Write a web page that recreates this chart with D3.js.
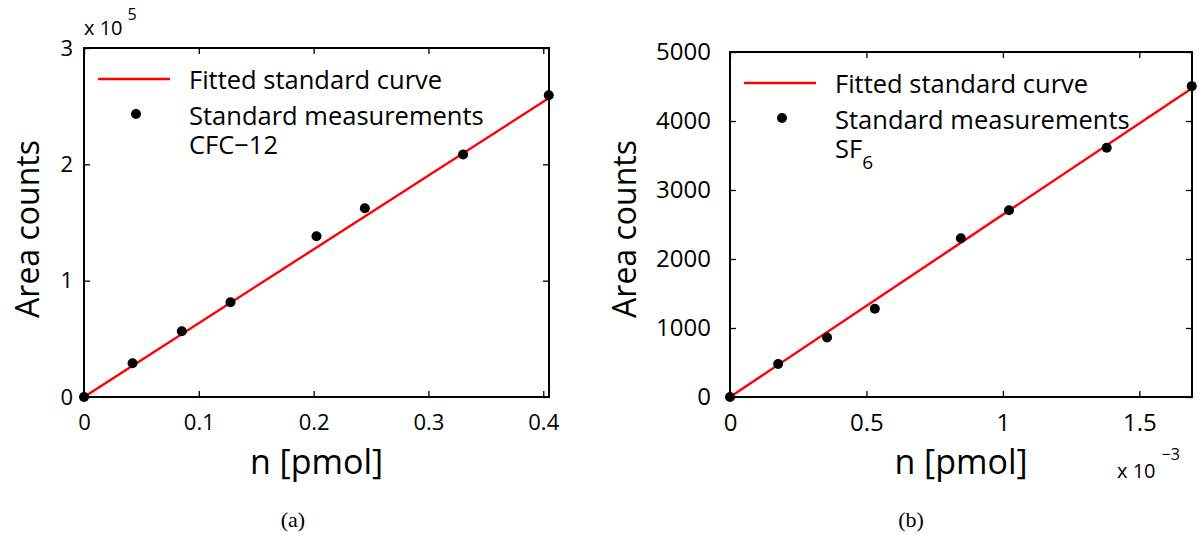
<!DOCTYPE html>
<html>
<head>
<meta charset="utf-8">
<script src="https://cdn.jsdelivr.net/npm/d3@7"></script>
<style>
  body { margin: 0; background: #fff; }
  text { font-family: "Open Sans", sans-serif; fill: #000; }
  .caption { font-family: "Liberation Serif", serif; }
</style>
</head>
<body>
<script>
// Panel (a): CFC-12
const cfcN = [0, 0.0423, 0.0852, 0.1276, 0.2025, 0.2446, 0.3302, 0.4048];
const cfcArea = [0, 29000, 56500, 81400, 138200, 162200, 208400, 259400];
const cfcFitN = [0, 0.405];
const cfcFitArea = [0, 257000];
const cfcXTicks = [0, 0.1, 0.2, 0.3, 0.4];
const cfcXLabels = ["0", "0.1", "0.2", "0.3", "0.4"];
const cfcYTicks = [0, 100000, 200000, 300000];
const cfcYLabels = ["0", "1", "2", "3"];

// Panel (b): SF6
const sfN = [0, 0.0001764, 0.0003557, 0.0005307, 0.000846, 0.0010225, 0.0013805, 0.001692];
const sfArea = [0, 478, 862, 1278, 2301, 2706, 3612, 4505];
const sfFitN = [0, 0.001693];
const sfFitArea = [0, 4474];
const sfXTicks = [0, 0.0005, 0.001, 0.0015];
const sfXLabels = ["0", "0.5", "1", "1.5"];
const sfYTicks = [0, 1000, 2000, 3000, 4000, 5000];
const sfYLabels = ["0", "1000", "2000", "3000", "4000", "5000"];

const width = 1199,
  height = 535,
  tickLen = 6;

const svg = d3
  .select("body")
  .append("svg")
  .attr("width", width)
  .attr("height", height);

const panels = [
  {
    n: cfcN, area: cfcArea, fitN: cfcFitN, fitArea: cfcFitArea,
    xTicks: cfcXTicks, xLabels: cfcXLabels, yTicks: cfcYTicks, yLabels: cfcYLabels,
    xMax: 0.405, yMax: 300000,
    left: 84, right: 549, top: 48, bottom: 397,
    tickFont: 22, yPad: 11,
    yLabelX: 39, species: "CFC\u221212", caption: "(a)", captionX: 293,
  },
  {
    n: sfN, area: sfArea, fitN: sfFitN, fitArea: sfFitArea,
    xTicks: sfXTicks, xLabels: sfXLabels, yTicks: sfYTicks, yLabels: sfYLabels,
    xMax: 0.001693, yMax: 5000,
    left: 730, right: 1192, top: 52, bottom: 397,
    tickFont: 24, yPad: 19,
    yLabelX: 636, species: "SF", sub: "6", caption: "(b)", captionX: 911,
  },
];

panels.forEach((p) => {
  const x = d3.scaleLinear().domain([0, p.xMax]).range([p.left, p.right]);
  const y = d3.scaleLinear().domain([0, p.yMax]).range([p.bottom, p.top]);
  const g = svg.append("g");

  // inward ticks on all four sides
  const axes = [
    { ax: d3.axisBottom(x).tickValues(p.xTicks).tickFormat((d, i) => p.xLabels[i]).tickPadding(17), pos: `translate(0,${p.bottom})` },
    { ax: d3.axisTop(x).tickValues(p.xTicks).tickFormat(""), pos: `translate(0,${p.top})` },
    { ax: d3.axisLeft(y).tickValues(p.yTicks).tickFormat((d, i) => p.yLabels[i]).tickPadding(p.yPad), pos: `translate(${p.left},0)` },
    { ax: d3.axisRight(y).tickValues(p.yTicks).tickFormat(""), pos: `translate(${p.right},0)` },
  ];
  axes.forEach((a) => {
    const ag = g
      .append("g")
      .attr("transform", a.pos)
      .call(a.ax.tickSizeInner(-tickLen).tickSizeOuter(0));
    ag.attr("font-family", null).attr("font-size", null);
    ag.select(".domain").remove();
    ag.selectAll(".tick line").attr("stroke", "#000").attr("stroke-width", 1.3);
    ag.selectAll(".tick text").style("font-size", p.tickFont + "px");
  });

  // fitted line
  const line = d3
    .line()
    .x((d, i) => x(p.fitN[i]))
    .y((d) => y(d));
  g.append("path")
    .datum(p.fitArea)
    .attr("d", line)
    .attr("fill", "none")
    .attr("stroke", "#ff0000")
    .attr("stroke-width", 2.4);

  // measurements
  g.selectAll("circle.pt")
    .data(p.area)
    .enter()
    .append("circle")
    .attr("class", "pt")
    .attr("cx", (d, i) => x(p.n[i]))
    .attr("cy", (d) => y(d))
    .attr("r", 5)
    .attr("fill", "#000");

  // box
  g.append("rect")
    .attr("x", p.left)
    .attr("y", p.top)
    .attr("width", p.right - p.left)
    .attr("height", p.bottom - p.top)
    .attr("fill", "none")
    .attr("stroke", "#000")
    .attr("stroke-width", 2);

  // axis titles
  g.append("text")
    .attr("x", (p.left + p.right) / 2)
    .attr("y", 474)
    .attr("text-anchor", "middle")
    .style("font-size", "34px")
    .text("n [pmol]");
  g.append("text")
    .attr("transform", `translate(${p.yLabelX},229) rotate(-90)`)
    .attr("text-anchor", "middle")
    .style("font-size", "32px")
    .text("Area counts");

  // legend
  const lx = p.left + 14;
  g.append("line")
    .attr("x1", lx)
    .attr("x2", lx + 72)
    .attr("y1", p.top + 31)
    .attr("y2", p.top + 31)
    .attr("stroke", "#ff0000")
    .attr("stroke-width", 2.4);
  g.append("circle")
    .attr("cx", lx + 38)
    .attr("cy", p.top + 66)
    .attr("r", 5)
    .attr("fill", "#000");
  const tx = p.left + 105;
  g.append("text").attr("x", tx).attr("y", p.top + 41).style("font-size", "25.5px").text("Fitted standard curve");
  // second legend entry spans two lines (name + species)
  const entry = g.append("text").attr("x", tx).attr("y", p.top + 77).style("font-size", "25.5px");
  entry.append("tspan").text("Standard measurements");
  entry.append("tspan").attr("x", tx).attr("dy", 29).text(p.species);
  if (p.sub) entry.append("tspan").attr("dy", 11).style("font-size", "19px").text(p.sub);

  // caption
  g.append("text")
    .attr("class", "caption")
    .attr("x", p.captionX)
    .attr("y", 527)
    .attr("text-anchor", "middle")
    .style("font-size", "22px")
    .text(p.caption);
});

// exponent labels
const e1 = svg.append("text").attr("x", 84).attr("y", 35).style("font-size", "20px").text("x 10");
e1.append("tspan").attr("dx", 5).attr("dy", -15).style("font-size", "16px").text("5");
const e2 = svg.append("text").attr("x", 1117).attr("y", 478).style("font-size", "20px").text("x 10");
e2.append("tspan").attr("dx", 6).attr("dy", -18).style("font-size", "16px").text("\u22123");
</script>
</body>
</html>
